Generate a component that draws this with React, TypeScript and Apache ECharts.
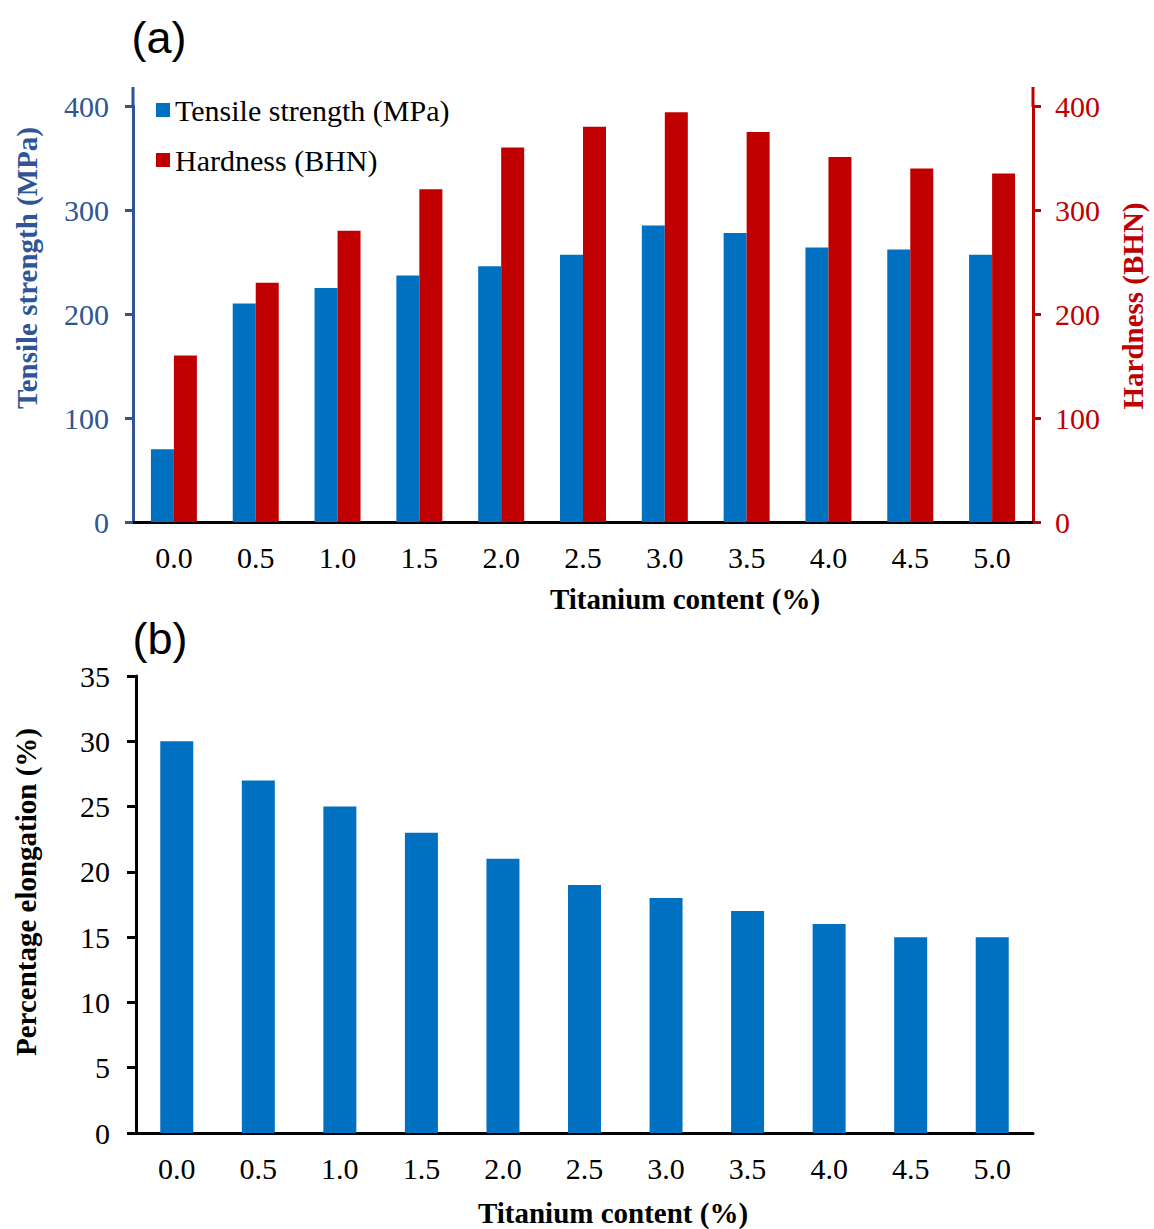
import React, { useEffect, useRef } from "react";
import * as echarts from "echarts";

const categories = ["0.0", "0.5", "1.0", "1.5", "2.0", "2.5", "3.0", "3.5", "4.0", "4.5", "5.0"];
const tensileStrength = [70, 210, 225, 237, 246, 257, 285, 278, 264, 262, 257];
const hardness = [160, 230, 280, 320, 360, 380, 394, 375, 351, 340, 335];
const elongation = [30, 27, 25, 23, 21, 19, 18, 17, 16, 15, 15];

const SERIF = "'Liberation Serif', 'Times New Roman', serif";
const BLUE = "#0070C0";
const RED = "#C00000";
const AXIS_BLUE = "#2F5597";

export default function App() {
  const ref = useRef<HTMLDivElement>(null);
  useEffect(() => {
    document.body.style.margin = "0";
    const chart = echarts.init(ref.current!, null, { renderer: "svg" });
    const labelBase = { fontFamily: SERIF, fontSize: 30 };
    chart.setOption({
      animation: false,
      backgroundColor: "#ffffff",
      legend: {
        data: ["Tensile strength (MPa)", "Hardness (BHN)"],
        orient: "vertical",
        left: 151,
        top: 90,
        icon: "rect",
        itemWidth: 14,
        itemHeight: 14,
        itemGap: 20,
        textStyle: { fontFamily: SERIF, fontSize: 30, color: "#000" },
      },
      grid: [
        { left: 133, right: 121, top: 106, height: 416 },
        { left: 136, right: 121, top: 676, height: 457 },
      ],
      xAxis: [
        {
          type: "category",
          gridIndex: 0,
          data: categories,
          axisLine: { lineStyle: { color: "#000", width: 3 } },
          axisTick: { show: false },
          axisLabel: { ...labelBase, color: "#000", margin: 20 },
        },
        {
          type: "category",
          gridIndex: 1,
          data: categories,
          axisLine: { lineStyle: { color: "#000", width: 3 } },
          axisTick: { show: false },
          axisLabel: { ...labelBase, color: "#000", margin: 20 },
        },
      ],
      yAxis: [
        {
          type: "value",
          gridIndex: 0,
          position: "left",
          min: 0,
          max: 400,
          interval: 100,
          splitLine: { show: false },
          axisLine: { show: true, lineStyle: { color: AXIS_BLUE, width: 3 } },
          axisTick: { show: true, length: 8, lineStyle: { color: AXIS_BLUE, width: 3 } },
          axisLabel: { ...labelBase, color: AXIS_BLUE, margin: 24 },
        },
        {
          type: "value",
          gridIndex: 0,
          position: "right",
          min: 0,
          max: 400,
          interval: 100,
          splitLine: { show: false },
          axisLine: { show: true, lineStyle: { color: RED, width: 3 } },
          axisTick: { show: true, length: 8, lineStyle: { color: RED, width: 3 } },
          axisLabel: { ...labelBase, color: RED, margin: 22 },
        },
        {
          type: "value",
          gridIndex: 1,
          min: 0,
          max: 35,
          interval: 5,
          splitLine: { show: false },
          axisLine: { show: true, lineStyle: { color: "#000", width: 3 } },
          axisTick: { show: true, length: 9, lineStyle: { color: "#000", width: 3 } },
          axisLabel: { ...labelBase, color: "#000", margin: 26 },
        },
      ],
      series: [
        {
          name: "Tensile strength (MPa)",
          type: "bar",
          xAxisIndex: 0,
          yAxisIndex: 0,
          data: tensileStrength,
          barWidth: 23,
          barGap: "0%",
          itemStyle: { color: BLUE },
        },
        {
          name: "Hardness (BHN)",
          type: "bar",
          xAxisIndex: 0,
          yAxisIndex: 1,
          data: hardness,
          barWidth: 23,
          barGap: "0%",
          itemStyle: { color: RED },
        },
        {
          name: "Percentage elongation (%)",
          type: "bar",
          xAxisIndex: 1,
          yAxisIndex: 2,
          data: elongation,
          barWidth: 33,
          itemStyle: { color: BLUE },
        },
      ],
      graphic: [
        {
          type: "line",
          shape: { x1: 133, y1: 87, x2: 133, y2: 107 },
          style: { stroke: AXIS_BLUE, lineWidth: 3 },
        },
        {
          type: "line",
          shape: { x1: 1033, y1: 87, x2: 1033, y2: 107 },
          style: { stroke: RED, lineWidth: 3 },
        },
        {
          type: "text",
          x: 159,
          y: 37,
          style: { text: "(a)", fontFamily: "'Liberation Sans', Arial, sans-serif", fontSize: 45, fill: "#000", align: "center", verticalAlign: "middle" },
        },
        {
          type: "text",
          x: 160,
          y: 638,
          style: { text: "(b)", fontFamily: "'Liberation Sans', Arial, sans-serif", fontSize: 45, fill: "#000", align: "center", verticalAlign: "middle" },
        },
        {
          type: "text",
          x: 685,
          y: 599,
          style: { text: "Titanium content (%)", fontFamily: SERIF, fontWeight: "bold", fontSize: 29, fill: "#000", align: "center", verticalAlign: "middle" },
        },
        {
          type: "text",
          x: 613,
          y: 1213,
          style: { text: "Titanium content (%)", fontFamily: SERIF, fontWeight: "bold", fontSize: 29, fill: "#000", align: "center", verticalAlign: "middle" },
        },
        {
          type: "text",
          x: 27,
          y: 268,
          rotation: Math.PI / 2,
          style: { text: "Tensile strength (MPa)", fontFamily: SERIF, fontWeight: "bold", fontSize: 29, fill: AXIS_BLUE, align: "center", verticalAlign: "middle" },
        },
        {
          type: "text",
          x: 1133,
          y: 306,
          rotation: Math.PI / 2,
          style: { text: "Hardness (BHN)", fontFamily: SERIF, fontWeight: "bold", fontSize: 29, fill: RED, align: "center", verticalAlign: "middle" },
        },
        {
          type: "text",
          x: 26,
          y: 892,
          rotation: Math.PI / 2,
          style: { text: "Percentage elongation (%)", fontFamily: SERIF, fontWeight: "bold", fontSize: 29, fill: "#000", align: "center", verticalAlign: "middle" },
        },
      ],
    });
    return () => chart.dispose();
  }, []);
  return <div ref={ref} style={{ width: 1154, height: 1229 }} />;
}
